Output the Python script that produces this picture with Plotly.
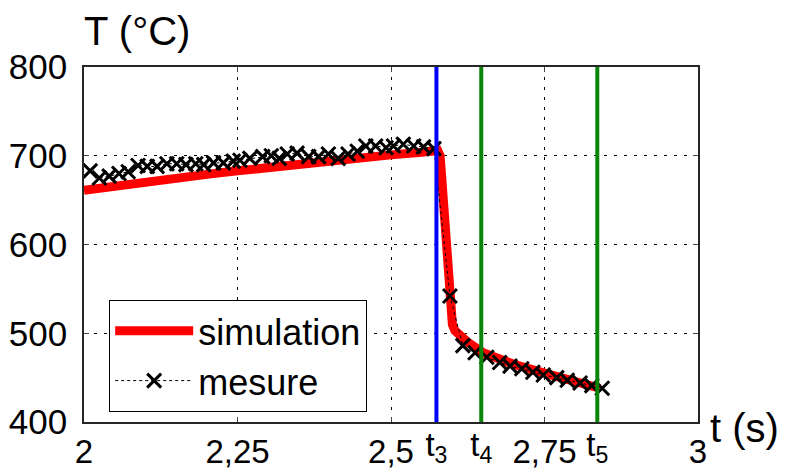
import plotly.graph_objects as go

# simulation curve (red)
sim_t = [2.0, 2.05, 2.1, 2.15, 2.2, 2.25, 2.3, 2.35, 2.4, 2.45, 2.5, 2.55, 2.576,
         2.580, 2.584, 2.588, 2.593, 2.597, 2.600, 2.604, 2.612, 2.625, 2.65, 2.7,
         2.75, 2.8, 2.84]
sim_T = [661, 666, 671, 675, 679, 683, 687, 691, 695, 698, 701, 704, 706,
         700, 660, 608, 571, 530, 510, 503, 498, 490, 478, 465,
         455, 446, 438]

# measurements (black crosses, dotted)
mes_t = [2.010, 2.025, 2.041, 2.057, 2.072, 2.088, 2.103, 2.119, 2.135, 2.151,
         2.166, 2.182, 2.195, 2.211, 2.227, 2.243, 2.254, 2.270, 2.291, 2.305,
         2.318, 2.331, 2.347, 2.366, 2.382, 2.398, 2.414, 2.430, 2.445, 2.459,
         2.475, 2.492, 2.504, 2.520, 2.537, 2.553, 2.570, 2.596, 2.617, 2.637,
         2.656, 2.677, 2.694, 2.713, 2.731, 2.748, 2.770, 2.787, 2.808, 2.827,
         2.844]
mes_T = [683, 675, 677, 680, 682, 689, 688, 688, 691, 691,
         690, 691, 690, 692, 692, 694, 695, 697, 699, 700,
         697, 702, 703, 699, 699, 702, 697, 702, 705, 711,
         711, 709, 711, 713, 711, 710, 708, 542, 486, 478,
         473, 467, 463, 460, 456, 453, 450, 447, 444, 441,
         438]

# event times
event_t = [2.574, 2.647, 2.836]
event_lbl = ["t<sub>3</sub>", "t<sub>4</sub>", "t<sub>5</sub>"]
event_col = ["#0000ff", "#0a850a", "#0a850a"]

x_ticks = [2, 2.25, 2.5, 2.75, 3]
x_ticktext = ["2", "2,25", "2,5", "2,75", "3"]
y_ticks = [400, 500, 600, 700, 800]

font = "Liberation Sans, Arial, sans-serif"

fig = go.Figure()
fig.add_trace(go.Scatter(x=sim_t, y=sim_T, mode="lines", name="simulation",
                         line=dict(color="#ff0000", width=9)))
fig.add_trace(go.Scatter(x=mes_t, y=mes_T, mode="lines+markers", name="mesure",
                         line=dict(color="black", width=1, dash="dot"),
                         marker=dict(symbol="x-thin-open", size=14, color="black",
                                     line=dict(color="black", width=3))))
for t, c in zip(event_t, event_col):
    fig.add_trace(go.Scatter(x=[t, t], y=[400, 800], mode="lines", showlegend=False,
                             line=dict(color=c, width=4), hoverinfo="skip"))

# invisible trace on second x axis for the t labels
fig.add_trace(go.Scatter(x=event_t, y=[None] * 3, xaxis="x2", showlegend=False,
                         hoverinfo="skip"))

grid = dict(showgrid=True, gridcolor="black", gridwidth=1, griddash="3px,7px")
fig.update_layout(
    width=787, height=472,
    # page body adds an 8px offset, so margins are shifted to compensate
    margin=dict(l=76, r=97, t=59, b=58),
    paper_bgcolor="white", plot_bgcolor="white",
    font=dict(family=font, color="black"),
    xaxis=dict(range=[2, 3], tickvals=x_ticks, ticktext=x_ticktext,
               tickfont=dict(size=33), ticks="inside", ticklen=5,
               showline=True, linecolor="#262626", linewidth=1.5, mirror="ticks",
               zeroline=False, ticklabelstandoff=0, automargin=False, **grid),
    xaxis2=dict(range=[2, 3], overlaying="x", side="bottom", anchor="y",
                tickvals=event_t, ticktext=event_lbl, tickfont=dict(size=33),
                showgrid=False, zeroline=False, showline=False, ticks="",
                ticklabelstandoff=0, automargin=False),
    yaxis=dict(range=[400, 800], tickvals=y_ticks, tickfont=dict(size=35),
               ticks="inside", ticklen=5, showline=True, linecolor="#262626",
               linewidth=1.5, mirror="ticks", zeroline=False,
               ticklabelstandoff=8, automargin=False, **grid),
    legend=dict(x=0.041, y=0.344, xanchor="left", yanchor="top",
                font=dict(size=36), bgcolor="white", bordercolor="black",
                borderwidth=1, tracegroupgap=0, itemwidth=78),
    showlegend=True,
)
fig.add_annotation(text="T (°C)", xref="paper", yref="paper", x=-0.003, y=1.10,
                   xanchor="left", yanchor="middle", showarrow=False,
                   font=dict(size=40))
fig.add_annotation(text="t (s)", xref="paper", yref="paper", x=1.016, y=-0.017,
                   xanchor="left", yanchor="middle", showarrow=False,
                   font=dict(size=40))

fig.write_html("out.html")
